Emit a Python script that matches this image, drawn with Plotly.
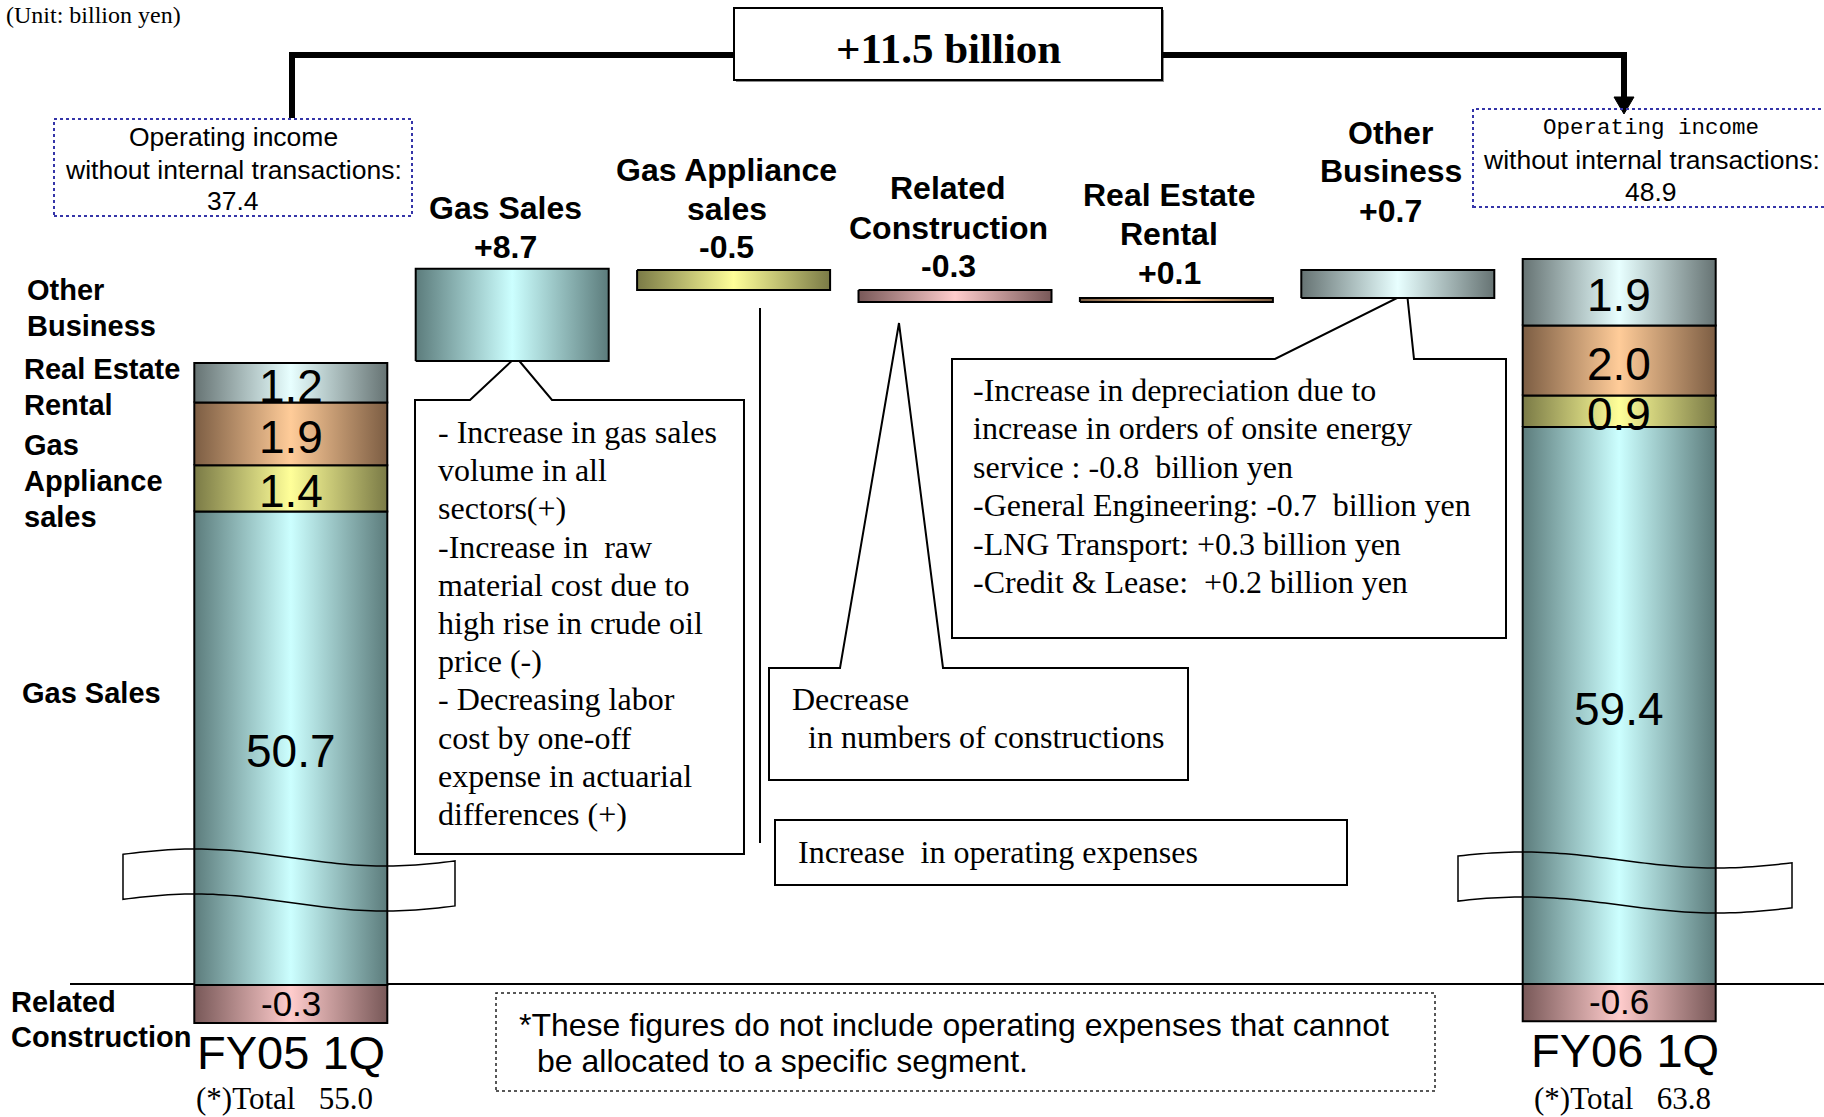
import numpy as np
import plotly.graph_objects as go

# ---------------- data (billion yen) ----------------
segment_names = ["Gas Sales", "Gas Appliance sales", "Real Estate Rental",
                 "Other Business", "Related Construction"]
fy05_segments = [50.7, 1.4, 1.9, 1.2, -0.3]
fy06_segments = [59.4, 0.9, 2.0, 1.9, -0.6]

change_names = ["Gas Sales", "Gas Appliance sales", "Related Construction",
                "Real Estate Rental", "Other Business"]
change_values = [8.7, -0.5, -0.3, 0.1, 0.7]

periods = ["FY05 1Q", "FY06 1Q"]
segment_totals = [55.0, 63.8]
income_without_internal = [37.4, 48.9]
income_change = 11.5

change_headings = {
    "Gas Sales": ["Gas Sales"],
    "Gas Appliance sales": ["Gas Appliance", "sales"],
    "Related Construction": ["Related", "Construction"],
    "Real Estate Rental": ["Real Estate", "Rental"],
    "Other Business": ["Other", "Business"],
}

# ---------------- page geometry ----------------
W, H = 1824, 1117
SANS, SERIF, MONO = "Liberation Sans", "Liberation Serif", "Liberation Mono"


def px(x):
    return x / W


def py(y):
    return 1 - y / H


COL0, STEP = 290.8, 221.4          # pixel centre of column 0 and column pitch
BAR_W = 193 / STEP
X_RANGE = [(0 - COL0) / STEP, (W - COL0) / STEP]
BREAK = 880                         # pixel row where the axis break sits


def y_axis(top_px, bottom_px, anchor_val, anchor_px, px_per_unit):
    """Linear y axis whose value `anchor_val` lands on pixel row `anchor_px`."""
    return dict(domain=[py(bottom_px), py(top_px)],
                range=[anchor_val - (bottom_px - anchor_px) / px_per_unit,
                       anchor_val + (anchor_px - top_px) / px_per_unit],
                visible=False, fixedrange=True, anchor="x")


def to_paper(ax, v):
    (d0, d1), (r0, r1) = ax["domain"], ax["range"]
    return d0 + (v - r0) / (r1 - r0) * (d1 - d0)


fy05_top = sum(v for v in fy05_segments if v > 0)
fy06_top = sum(v for v in fy06_segments if v > 0)

axes = {
    "y": y_axis(150, BREAK, fy05_top, 363, 33),      # FY05, above the break
    "y2": y_axis(BREAK, H, 0, 985, 127),             # FY05, below the break
    "y3": y_axis(150, BREAK, fy06_top, 259, 35),     # FY06, above the break
    "y4": y_axis(BREAK, H, 0, 984, 62),              # FY06, below the break
    # the gas-sales change dwarfs the others, so it gets a compressed axis
    "y5": y_axis(150, BREAK, fy05_top, 361, 10.6),
    "y6": y_axis(150, BREAK, fy05_top + change_values[0], 270, 40),
}

palette = {
    "Gas Sales": ("#5c7c7c", "#ccffff"),
    "Gas Appliance sales": ("#7a7a46", "#ffff99"),
    "Real Estate Rental": ("#7c5d43", "#ffcc99"),
    "Other Business": ("#667373", "#e8ffff"),
    "Related Construction": ("#785858", "#ffcccc"),
}

fig = go.Figure()


def block(col, y0, y1, name, yaxis):
    dark, light = palette[name]
    x0, x1 = col - BAR_W / 2, col + BAR_W / 2
    fig.add_trace(go.Scatter(
        x=[x0, x1, x1, x0, x0], y=[y0, y0, y1, y1, y0],
        xaxis="x", yaxis=yaxis, mode="lines", fill="toself",
        line=dict(color="black", width=2),
        fillgradient=dict(type="horizontal", start=x0, stop=x1,
                          colorscale=[[0, dark], [0.5, light], [1, dark]]),
        hoverinfo="skip", showlegend=False))


annotations = []


def label(x, y, s, size, family=SANS, weight="normal", xanchor="center",
          xref="paper", yref="paper", yanchor="middle", **kw):
    annotations.append(dict(x=x, y=y, text=s, xref=xref, yref=yref,
                            xanchor=xanchor, yanchor=yanchor, showarrow=False,
                            font=dict(family=family, size=size, color="black",
                                      weight=weight), **kw))


# ---------------- stacked segment columns ----------------
for col, values, upper, lower in [(0, fy05_segments, "y", "y2"),
                                  (6, fy06_segments, "y3", "y4")]:
    level = 0.0
    for i, (name, v) in enumerate(zip(segment_names, values)):
        if v >= 0:
            y0, y1 = level, level + v
            level = y1
        else:
            y0, y1 = 0.0, v
        for ax in (upper, lower):
            block(col, y0, y1, name, ax)
        txt = f"{v:.1f}"
        if i == 0:
            # the long gas-sales segment is labelled halfway down its drawn length
            ymid = (to_paper(axes[upper], y1) + to_paper(axes[lower], 0)) / 2
            label(col, ymid, txt, 46, xref="x", yshift=-3)
        elif v >= 0:
            label(col, (y0 + y1) / 2, txt, 46, xref="x", yref=upper, yshift=-3)
        else:
            label(col, (y0 + y1) / 2, txt, 35, xref="x", yref=lower, yshift=1)

# ---------------- waterfall of changes ----------------
level = fy05_top
heading_rows = [[208, 247], [170, 209, 247], [188, 228, 266],
                [195, 234, 273], [133, 171, 211]]
for i, (name, v) in enumerate(zip(change_names, change_values)):
    col = i + 1
    block(col, level, level + v, name, "y5" if i == 0 else "y6")
    level += v
    lines = change_headings[name] + [f"{v:+.1f}"]
    for s, row in zip(lines, heading_rows[i]):
        label(col, py(row), s, 32, weight="bold", xref="x", xshift=-7)

# ---------------- column captions ----------------
label(0, py(1052), periods[0], 47, xref="x")
label(6, py(1050), periods[1], 47, xref="x", xshift=6)
label(0, py(1098), f"(*)Total   {segment_totals[0]:.1f}", 31, family=SERIF,
      xref="x", xshift=-6)
label(6, py(1098), f"(*)Total   {segment_totals[1]:.1f}", 31, family=SERIF,
      xref="x", xshift=3)

side_labels = [("Other", 25, 290), ("Business", 25, 326),
               ("Real Estate", 22, 369), ("Rental", 22, 405),
               ("Gas", 22, 445), ("Appliance", 22, 481), ("sales", 22, 517),
               ("Gas Sales", 20, 693), ("Related", 9, 1002),
               ("Construction", 9, 1037)]
for s, x, y in side_labels:
    label(px(x), py(y), s, 29, weight="bold", xanchor="left")

# ---------------- operating income boxes ----------------
for (x0, y_rows, fam_first), total in zip(
        [(233, [137, 170, 201], SANS), (1651, [128, 160, 192], MONO)],
        income_without_internal):
    size_first = 26.5 if fam_first == SANS else 22.5
    label(px(x0), py(y_rows[0]), "Operating income", size_first, family=fam_first)
    label(px(x0), py(y_rows[1]), "without internal transactions:", 26.5)
    label(px(x0), py(y_rows[2]), f"{total:.1f}", 26.5)

label(px(948), py(48), f"+{income_change:.1f} billion", 43, family=SERIF,
      weight="bold")
label(px(4), py(15), "(Unit: billion yen)", 24, family=SERIF, xanchor="left")

# ---------------- call-out texts ----------------
gas_notes = ["- Increase in gas sales", "volume in all", "sectors(+)",
             "-Increase in  raw", "material cost due to",
             "high rise in crude oil", "price (-)", "- Decreasing labor",
             "cost by one-off", "expense in actuarial", "differences (+)"]
for k, s in enumerate(gas_notes):
    label(px(436), py(432 + 38.2 * k), s, 32, family=SERIF, xanchor="left")

other_notes = ["-Increase in depreciation due to",
               "increase in orders of onsite energy",
               "service : -0.8  billion yen",
               "-General Engineering: -0.7  billion yen",
               "-LNG Transport: +0.3 billion yen",
               "-Credit & Lease:  +0.2 billion yen"]
for k, s in enumerate(other_notes):
    label(px(971), py(390 + 38.4 * k), s, 32, family=SERIF, xanchor="left")

label(px(790), py(699), "Decrease", 32, family=SERIF, xanchor="left")
label(px(806), py(737), "in numbers of constructions", 32, family=SERIF,
      xanchor="left")
label(px(796), py(852), "Increase  in operating expenses", 32, family=SERIF,
      xanchor="left")
label(px(517), py(1025),
      "*These figures do not include operating expenses that cannot", 32,
      xanchor="left")
label(px(535), py(1061), "be allocated to a specific segment.", 32,
      xanchor="left")

# ---------------- shapes ----------------
shapes = []


def path(points, close=True):
    s = "M " + " L ".join(f"{px(x):.5f},{py(y):.5f}" for x, y in points)
    return s + (" Z" if close else "")


def add_path(points, close=True, fill=None, width=2, color="black",
             layer="above", dash=None):
    shapes.append(dict(type="path", xref="paper", yref="paper",
                       path=path(points, close), layer=layer,
                       fillcolor=fill if fill else "rgba(0,0,0,0)",
                       line=dict(color=color, width=width,
                                 dash=dash if dash else "solid")))


def add_rect(x0, y0, x1, y1, width=2, color="black", dash=None, fill=None,
             layer="above"):
    shapes.append(dict(type="rect", xref="paper", yref="paper",
                       x0=px(x0), x1=px(x1), y0=py(y1), y1=py(y0), layer=layer,
                       fillcolor=fill if fill else "rgba(0,0,0,0)",
                       line=dict(color=color, width=width,
                                 dash=dash if dash else "solid")))


# zero line of the segment columns
add_path([(70, 984), (W, 984)], close=False, width=2, layer="below")


# axis-break ribbons
def ribbon(x0, x1, x_peak, half_period, centre, amp, gap):
    xs = np.linspace(x0, x1, 60)
    top = centre - amp * np.cos(np.pi * (xs - x_peak) / half_period)
    outline = list(zip(xs, top)) + list(zip(xs[::-1], top[::-1] + gap))
    add_path(outline, fill="white", width=0, color="white", layer="below")
    add_path(outline, width=1.5)


ribbon(123, 455, 195, 190, 857.5, 8.5, 45)
ribbon(1458, 1792, 1523, 194, 860, 8, 45)

# call-out balloons
add_path([(415, 400), (470, 400), (516, 357), (552, 400), (744, 400),
          (744, 854), (415, 854)], fill="white", layer="below")
add_path([(769, 668), (840, 668), (899, 323), (943, 668), (1188, 668),
          (1188, 780), (769, 780)], fill="white", layer="below")
add_path([(952, 359), (1275, 359), (1407, 293), (1414, 359), (1506, 359),
          (1506, 638), (952, 638)], fill="white", layer="below")
add_rect(775, 820, 1347, 885, width=2)
add_path([(760, 308), (760, 843)], close=False, width=2)

# total change banner and connectors
add_rect(736, 10, 1164, 82, width=0, fill="#8c8c8c")
add_rect(734, 8, 1162, 80, width=2, fill="white")
add_path([(734, 55), (292, 55), (292, 118)], close=False, width=6)
add_path([(1162, 55), (1624, 55), (1624, 100)], close=False, width=6)
add_path([(1614, 97), (1634, 97), (1624, 114)], fill="black", width=1)

# dotted frames
add_rect(54, 119, 412, 216, width=2, color="#3535a8", dash="dot")
add_rect(1473, 109, 1832, 207, width=2, color="#3535a8", dash="dot")
add_rect(496, 993, 1435, 1091, width=1.5, color="#222222", dash="dot")

layout_axes = {("yaxis" if k == "y" else "yaxis" + k[1:]): v
               for k, v in axes.items()}
fig.update_layout(
    width=W, height=H, margin=dict(l=0, r=0, t=0, b=0),
    paper_bgcolor="white", plot_bgcolor="rgba(0,0,0,0)", showlegend=False,
    xaxis=dict(domain=[0, 1], range=X_RANGE, visible=False, fixedrange=True),
    annotations=annotations, shapes=shapes, **layout_axes)

fig.write_html("out.html")
